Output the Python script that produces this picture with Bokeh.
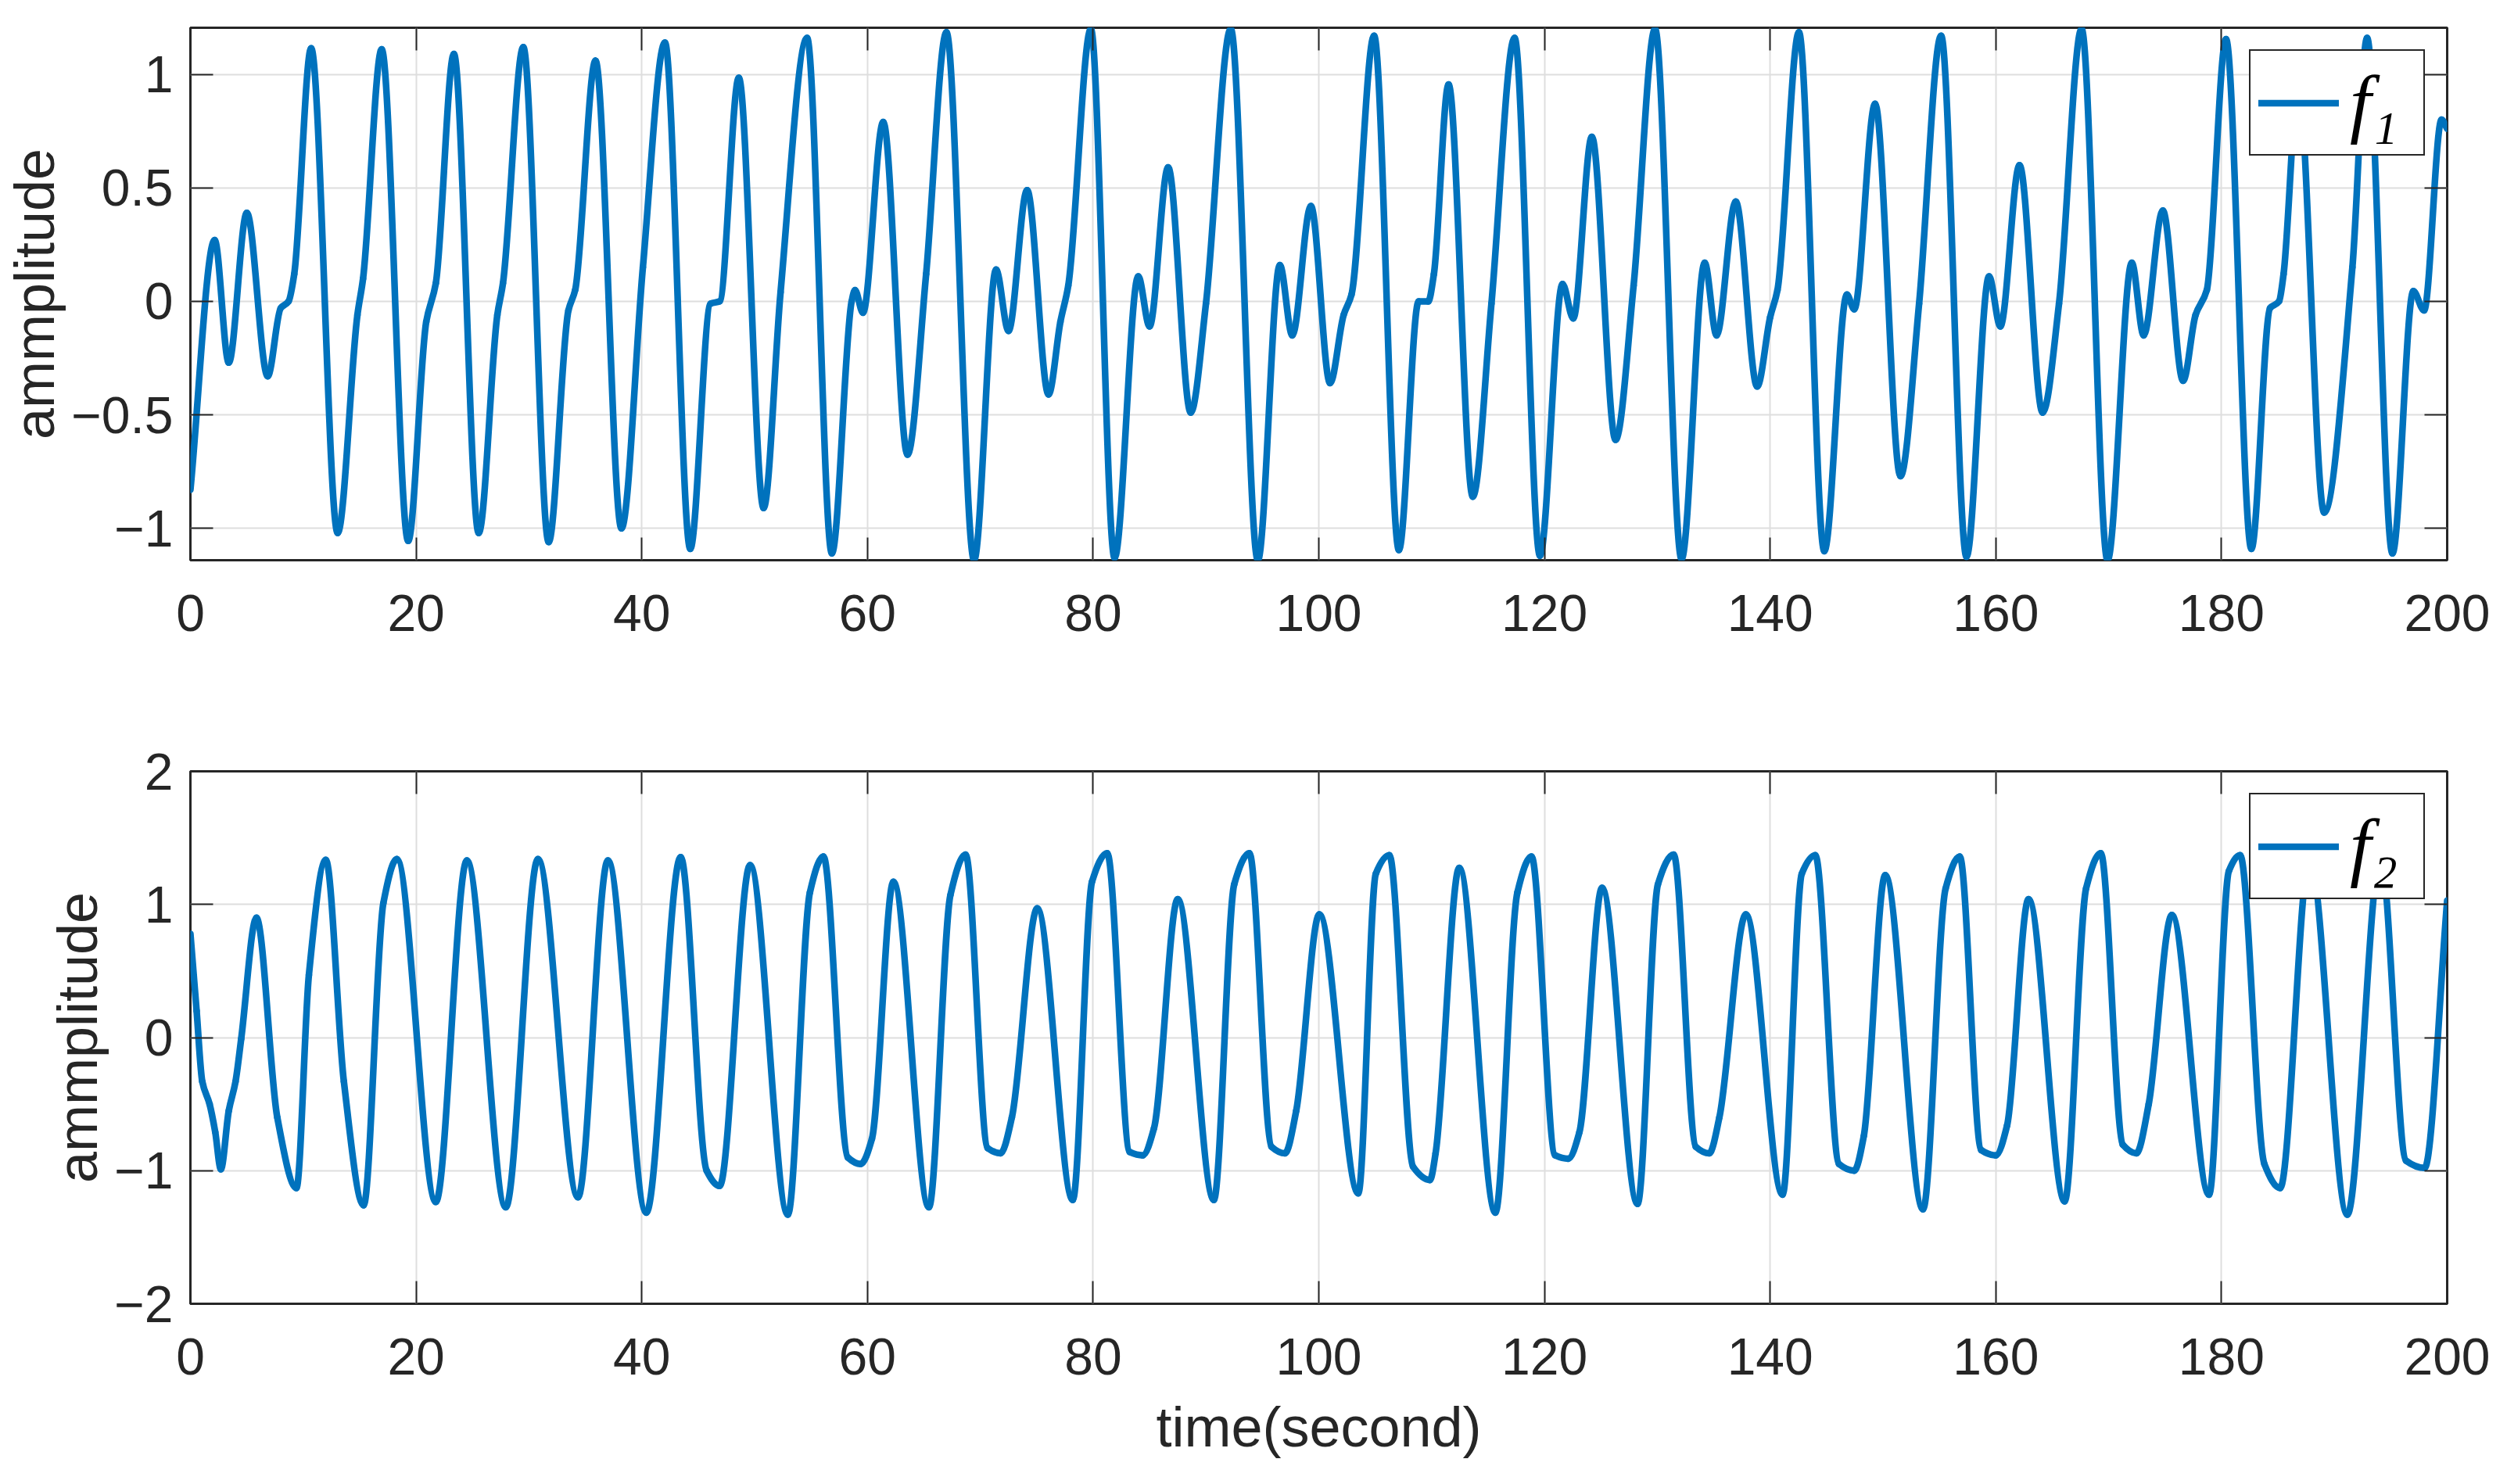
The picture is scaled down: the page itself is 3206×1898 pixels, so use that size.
import numpy as np
from bokeh.plotting import figure
from bokeh.models import (ColumnDataSource, Range1d, FixedTicker, LinearAxis,
                          Legend, LegendItem)
from bokeh.layouts import column
from bokeh.core.properties import value
from bokeh.embed import file_html
from bokeh.resources import INLINE

# ---------------- data ----------------
X_TICKS = [0, 20, 40, 60, 80, 100, 120, 140, 160, 180, 200]
F1_YTICKS = [-1, -0.5, 0, 0.5, 1]
F1_YLABELS = ["\u22121", "\u22120.5", "0", "0.5", "1"]
F2_YTICKS = [-2, -1, 0, 1, 2]
F2_YLABELS = ["\u22122", "\u22121", "0", "1", "2"]

f1_t = [0.0, 2.15, 3.4, 5.0, 6.85, 8.0, 8.7, 9.2, 10.7, 13.05, 14.8, 15.3, 16.95,
        19.3, 20.9, 21.75, 23.35, 25.55, 27.2, 27.7, 29.5, 31.75, 33.5, 34.1, 35.9,
        38.2, 40.1, 42.05, 44.3, 46.1, 46.9, 48.6, 50.8, 52.3, 54.65, 56.85, 58.6,
        58.9, 59.6, 61.4, 63.55, 65.2, 67.0, 69.45, 71.4, 72.5, 74.15, 76.05, 77.1,
        77.8, 79.8, 81.9, 84.0, 85.0, 86.65, 88.65, 90.0, 92.2, 94.6, 96.55, 97.65,
        99.3, 101.0, 102.2, 102.9, 104.9, 107.1, 108.85, 109.7, 110.2, 111.5, 113.65,
        115.3, 117.35, 119.6, 121.6, 122.55, 124.2, 126.3, 127.9, 129.8, 132.15,
        134.2, 135.25, 136.95, 138.85, 140.0, 140.65, 142.55, 144.8, 146.8, 147.45,
        149.3, 151.55, 153.2, 155.15, 157.4, 159.4, 160.4, 162.1, 164.15, 165.6,
        167.6, 169.9, 172.05, 173.1, 174.8, 176.6, 177.7, 178.7, 180.4, 182.65,
        184.3, 185.1, 185.5, 186.8, 189.1, 191.6, 192.9, 195.15, 197.0, 197.95,
        199.5, 200.0]
f1_y = [-0.83, 0.27, -0.27, 0.39, -0.33, -0.03, 0.0, 0.12, 1.115, -1.02, -0.06, 0.10, 1.11,
        -1.055, -0.09, 0.08, 1.09, -1.02, -0.06, 0.08, 1.12, -1.06, -0.04, 0.05, 1.06,
        -1.0, 0.15, 1.14, -1.09, -0.01, 0.0, 0.985, -0.91, 0.04, 1.16, -1.11, 0.0,
        0.05, -0.05, 0.79, -0.675, 0.12, 1.185, -1.14, 0.14, -0.13, 0.49, -0.41, -0.09,
        0.07, 1.2, -1.13, 0.11, -0.11, 0.59, -0.49, -0.01, 1.2, -1.14, 0.16, -0.15,
        0.42, -0.36, -0.06, 0.03, 1.17, -1.095, 0.0, 0.0, 0.12, 0.955, -0.86,
        -0.01, 1.16, -1.12, 0.076, -0.075, 0.725, -0.61, 0.07, 1.2, -1.135,
        0.17, -0.15, 0.44, -0.375, -0.07, 0.05, 1.185, -1.10, 0.03, -0.035,
        0.87, -0.77, -0.01, 1.17, -1.125, 0.11, -0.11, 0.6, -0.49, -0.01,
        1.2, -1.14, 0.17, -0.15, 0.40, -0.35, -0.06, 0.05, 1.155, -1.09,
        -0.03, 0.0, 0.12, 0.95, -0.93, 0.15, 1.16, -1.11, 0.045, -0.04,
        0.80, 0.76]

f2_t = [0.0, 0.55, 1.05, 1.7, 2.2, 2.7, 3.4, 4.0, 4.5, 5.85, 7.7, 9.4, 10.5, 12.0,
        13.6, 15.35, 17.1, 18.3, 21.75, 24.5, 27.95, 30.8, 34.35, 37.0, 40.4, 43.45,
        45.75, 46.9, 49.6, 52.95, 54.9, 56.1, 58.25, 59.4, 60.4, 62.3, 65.45, 67.35,
        68.7, 70.65, 71.8, 72.8, 75.05, 78.2, 79.9, 81.25, 83.25, 84.4, 85.4, 87.5,
        90.7, 92.5, 93.85, 95.8, 97.0, 98.0, 100.05, 103.5, 105.05, 106.25, 108.35,
        109.85, 110.35, 112.45, 115.65, 117.6, 118.85, 120.95, 122.1, 123.1, 125.1,
        128.25, 130.05, 131.45, 133.4, 134.6, 135.5, 137.85, 141.1, 142.8, 144.0,
        146.1, 147.45, 148.3, 150.2, 153.55, 155.55, 156.8, 158.7, 160.0, 161.0,
        162.9, 166.1, 168.0, 169.3, 171.25, 172.45, 173.55, 175.6, 178.9, 180.65,
        181.65, 183.8, 185.2, 187.8, 191.15, 194.1, 196.35, 198.0, 200.0]
f2_y = [0.78, 0.2, -0.33, -0.5, -0.71, -0.99, -0.55, -0.33, -0.01, 0.90, -0.60, -1.13, 0.47, 1.335,
        -0.33, -1.26, 1.01, 1.34, -1.235, 1.33, -1.275, 1.34, -1.20, 1.33, -1.315, 1.355,
        -1.0, -1.115, 1.295, -1.33, 1.09, 1.36, -0.90, -0.95, -0.76, 1.17, -1.275, 1.07,
        1.375, -0.83, -0.87, -0.60, 0.97, -1.22, 1.17, 1.385, -0.86, -0.885, -0.68, 1.04,
        -1.22, 1.15, 1.385, -0.82, -0.87, -0.55, 0.925, -1.17, 1.23, 1.37, -0.97,
        -1.07, -0.87, 1.275, -1.315, 1.09, 1.36, -0.885, -0.91, -0.71, 1.125,
        -1.25, 1.15, 1.375, -0.82, -0.87, -0.60, 0.925, -1.18, 1.23, 1.37,
        -0.95, -1.0, -0.74, 1.22, -1.29, 1.12, 1.36, -0.845, -0.885, -0.66,
        1.04, -1.23, 1.12, 1.385, -0.805, -0.87, -0.50, 0.92, -1.18, 1.25,
        1.37, -0.95, -1.13, 1.35, -1.33, 1.36, -0.925, -0.98, 1.03]

# ---------------- styling ----------------
BLUE = "#0072BD"
AX = "#262626"
GRID = "#dedede"
SANS = "Liberation Sans"
TICK_SIZE = "66px"
LABEL_SIZE = "72px"


def smooth_segments(x, y):
    """Cubic Bezier segments through the read points (monotone tangents)."""
    x = np.asarray(x, float)
    y = np.asarray(y, float)
    h = np.diff(x)
    d = np.diff(y) / h
    m = np.zeros(len(x))
    m[0], m[-1] = d[0], d[-1]
    for i in range(1, len(x) - 1):
        if d[i - 1] * d[i] <= 0:
            m[i] = 0.0
        else:
            w1 = 2 * h[i] + h[i - 1]
            w2 = h[i] + 2 * h[i - 1]
            m[i] = (w1 + w2) / (w1 / d[i - 1] + w2 / d[i])
    return dict(x0=x[:-1], y0=y[:-1], x1=x[1:], y1=y[1:],
                cx0=x[:-1] + h / 3, cy0=y[:-1] + m[:-1] * h / 3,
                cx1=x[1:] - h / 3, cy1=y[1:] - m[1:] * h / 3)


def style_axis(ax, ticks, labels=None, hidden=False):
    ax.ticker = FixedTicker(ticks=ticks)
    ax.axis_line_color = None
    ax.major_tick_in = 29
    ax.major_tick_out = 0
    ax.major_tick_line_color = AX
    ax.major_tick_line_width = 2
    ax.minor_tick_line_color = None
    if hidden:
        ax.major_label_text_font_size = "0px"
        ax.major_label_text_alpha = 0
        ax.major_label_standoff = 0
    else:
        ax.major_label_text_font = SANS
        ax.major_label_text_font_size = TICK_SIZE
        ax.major_label_text_color = AX
        ax.axis_label_text_font = SANS
        ax.axis_label_text_font_size = LABEL_SIZE
        ax.axis_label_text_font_style = "normal"
        ax.axis_label_text_color = AX
        if labels is not None:
            ax.major_label_overrides = {t: s for t, s in zip(ticks, labels)}


def make_fig(t, y, yr, yticks, ylabels, name, top, bottom, xlabel=None):
    p = figure(frame_width=2886, frame_height=681,
               x_range=Range1d(0, 200), y_range=Range1d(*yr),
               output_backend="svg", toolbar_location=None,
               min_border_left=243, min_border_right=61,
               min_border_top=top, min_border_bottom=bottom)
    p.outline_line_color = AX
    p.outline_line_width = 3
    p.outline_line_alpha = 1

    style_axis(p.xaxis[0], X_TICKS)
    p.xaxis[0].major_label_standoff = 44
    style_axis(p.yaxis[0], yticks, ylabels)
    p.yaxis[0].major_label_standoff = 22
    p.yaxis[0].axis_label = "ammplitude"
    p.yaxis[0].axis_label_standoff = 4
    if xlabel:
        p.xaxis[0].axis_label = xlabel
        p.xaxis[0].axis_label_standoff = 24

    right = LinearAxis()
    style_axis(right, yticks, hidden=True)
    p.add_layout(right, "right")
    top_ax = LinearAxis()
    style_axis(top_ax, X_TICKS, hidden=True)
    p.add_layout(top_ax, "above")

    p.xgrid.ticker = FixedTicker(ticks=X_TICKS)
    p.ygrid.ticker = FixedTicker(ticks=yticks)
    for g in (p.xgrid[0], p.ygrid[0]):
        g.grid_line_color = GRID
        g.grid_line_width = 2

    src = ColumnDataSource(smooth_segments(t, y))
    r = p.bezier(x0="x0", y0="y0", x1="x1", y1="y1",
                 cx0="cx0", cy0="cy0", cx1="cx1", cy1="cy1",
                 source=src, line_color=BLUE, line_width=8.5, line_cap="round")

    leg = Legend(items=[LegendItem(label=value(name), renderers=[r])],
                 location="top_right", margin=28,
                 border_line_color=AX, border_line_width=2, border_line_alpha=1,
                 background_fill_color="white", background_fill_alpha=1,
                 label_text_font="Liberation Serif", label_text_font_style="italic",
                 label_text_font_size="98px", label_text_color="black",
                 glyph_width=103, glyph_height=111, label_width=84, label_height=111,
                 label_standoff=14, padding=10, spacing=0)
    p.add_layout(leg)
    return p


p1 = make_fig(f1_t, f1_y, (-1.14, 1.205), F1_YTICKS, F1_YLABELS, "f\u2081", 35, 130)
p2 = make_fig(f2_t, f2_y, (-2, 2), F2_YTICKS, F2_YLABELS, "f\u2082", 140, 215,
              xlabel="time(second)")

page = column(p1, p2, spacing=0)
open("out.html", "w").write(file_html(page, INLINE))
